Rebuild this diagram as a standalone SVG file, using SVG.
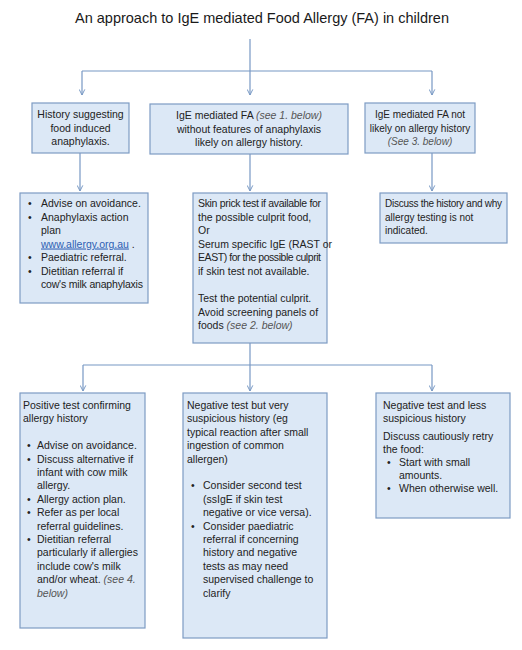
<svg xmlns="http://www.w3.org/2000/svg" width="522" height="650" viewBox="0 0 522 650">
<style>
.bg{fill:#ffffff}
.box{fill:#dce8f6;stroke:#7d9bc3;stroke-width:1.2}
.t{font-family:"Liberation Sans",Arial,sans-serif;font-size:10.5px;fill:#222}
.s{font-size:10px}
.c{text-anchor:middle}
.i{font-style:italic;fill:#555}
.lk{fill:#2f5fb3;text-decoration:underline}
.title{font-family:"Liberation Sans",Arial,sans-serif;font-size:14.5px;fill:#1a1a1a;text-anchor:middle}
.conn{stroke:#7798c4;stroke-width:1.2;fill:none}
</style>
<defs>
<marker id="a" viewBox="0 0 10 10" refX="9" refY="5" markerWidth="7" markerHeight="7" orient="auto" markerUnits="userSpaceOnUse">
<path d="M1,1 L9,5 L1,9" fill="none" stroke="#7798c4" stroke-width="1.4"/>
</marker>
</defs>
<rect class="bg" x="0" y="0" width="522" height="650"/>
<text class="title" x="262" y="23">An approach to IgE mediated Food Allergy (FA) in children</text>

<g id="connectors">
<path class="conn" d="M250,39 V71"/>
<path class="conn" d="M82,71 H432"/>
<path class="conn" d="M82,71 V95" marker-end="url(#a)"/>
<path class="conn" d="M250,71 V95" marker-end="url(#a)"/>
<path class="conn" d="M432,71 V95" marker-end="url(#a)"/>
<path class="conn" d="M80,153 V191" marker-end="url(#a)"/>
<path class="conn" d="M250,154 V191" marker-end="url(#a)"/>
<path class="conn" d="M432,153 V191" marker-end="url(#a)"/>
<path class="conn" d="M250,343 V365"/>
<path class="conn" d="M83,365 H432"/>
<path class="conn" d="M83,365 V391" marker-end="url(#a)"/>
<path class="conn" d="M250,365 V391" marker-end="url(#a)"/>
<path class="conn" d="M432,365 V391" marker-end="url(#a)"/>
</g>

<g id="n1">
<rect class="box" x="32" y="103" width="97" height="50"/>
<text class="t c" x="80.5" y="118">History suggesting</text>
<text class="t c" x="80.5" y="131.5">food induced</text>
<text class="t c" x="80.5" y="145">anaphylaxis.</text>
</g>

<g id="n2">
<rect class="box" x="150" y="104" width="198" height="50"/>
<text class="t c" x="249" y="119">IgE mediated FA <tspan class="i">(see 1. below)</tspan></text>
<text class="t c" x="249" y="132.5">without features of anaphylaxis</text>
<text class="t c" x="249" y="146">likely on allergy history.</text>
</g>

<g id="n3">
<rect class="box" x="365" y="103" width="110" height="50"/>
<text class="t s c" x="420" y="118">IgE mediated FA not</text>
<text class="t s c" x="420" y="131.5">likely on allergy history</text>
<text class="t s c i" x="420" y="145">(See 3. below)</text>
</g>

<g id="n1a">
<rect class="box" x="20" y="193" width="128" height="110"/>
<text class="t" x="28" y="207">•</text><text class="t" x="41" y="207">Advise on avoidance.</text>
<text class="t" x="28" y="220.5">•</text><text class="t" x="41" y="220.5">Anaphylaxis action</text>
<text class="t" x="41" y="234">plan</text>
<text class="t" x="41" y="247.5"><tspan class="lk">www.allergy.org.au</tspan> .</text>
<text class="t" x="28" y="261">•</text><text class="t" x="41" y="261">Paediatric referral.</text>
<text class="t" x="28" y="274.5">•</text><text class="t" x="41" y="274.5">Dietitian referral if</text>
<text class="t" x="41" y="288" textLength="102">cow's milk anaphylaxis</text>
</g>

<g id="n2a">
<rect class="box" x="193" y="193" width="134" height="150"/>
<text class="t" x="198" y="207" textLength="123">Skin prick test if available for</text>
<text class="t" x="198" y="220.6">the possible culprit food,</text>
<text class="t" x="198" y="234.2">Or</text>
<text class="t" x="198" y="247.8">Serum specific IgE (RAST or</text>
<text class="t" x="198" y="261.4" textLength="123">EAST) for the possible culprit</text>
<text class="t" x="198" y="275">if skin test not available.</text>
<text class="t" x="198" y="302.2">Test the potential culprit.</text>
<text class="t" x="198" y="315.8">Avoid screening panels of</text>
<text class="t" x="198" y="329.4">foods <tspan class="i">(see 2. below)</tspan></text>
</g>

<g id="n3a">
<rect class="box" x="380" y="193" width="127" height="50"/>
<text class="t s" x="385" y="207" textLength="117">Discuss the history and why</text>
<text class="t s" x="385" y="220.5">allergy testing is not</text>
<text class="t s" x="385" y="234">indicated.</text>
</g>

<g id="n4">
<rect class="box" x="20" y="393" width="125" height="235"/>
<text class="t" x="23" y="409">Positive test confirming</text>
<text class="t" x="23" y="422.4">allergy history</text>
<text class="t" x="27" y="449.2">•</text><text class="t" x="37" y="449.2">Advise on avoidance.</text>
<text class="t" x="27" y="462.6">•</text><text class="t" x="37" y="462.6">Discuss alternative if</text>
<text class="t" x="37" y="476">infant with cow milk</text>
<text class="t" x="37" y="489.4">allergy.</text>
<text class="t" x="27" y="502.8">•</text><text class="t" x="37" y="502.8">Allergy action plan.</text>
<text class="t" x="27" y="516.2">•</text><text class="t" x="37" y="516.2">Refer as per local</text>
<text class="t" x="37" y="529.6">referral guidelines.</text>
<text class="t" x="27" y="543">•</text><text class="t" x="37" y="543">Dietitian referral</text>
<text class="t" x="37" y="556.4">particularly if allergies</text>
<text class="t" x="37" y="569.8">include cow's milk</text>
<text class="t" x="37" y="583.2">and/or wheat. <tspan class="i">(see 4.</tspan></text>
<text class="t i" x="37" y="596.6">below)</text>
</g>

<g id="n5">
<rect class="box" x="183" y="393" width="144" height="245"/>
<text class="t" x="187" y="409">Negative test but very</text>
<text class="t" x="187" y="422.4">suspicious history (eg</text>
<text class="t" x="187" y="435.8">typical reaction after small</text>
<text class="t" x="187" y="449.2">ingestion of common</text>
<text class="t" x="187" y="462.6">allergen)</text>
<text class="t" x="191" y="489.4">•</text><text class="t" x="203" y="489.4">Consider second test</text>
<text class="t" x="203" y="502.8">(ssIgE if skin test</text>
<text class="t" x="203" y="516.2">negative or vice versa).</text>
<text class="t" x="191" y="529.6">•</text><text class="t" x="203" y="529.6">Consider paediatric</text>
<text class="t" x="203" y="543">referral if concerning</text>
<text class="t" x="203" y="556.4">history and negative</text>
<text class="t" x="203" y="569.8">tests as may need</text>
<text class="t" x="203" y="583.2">supervised challenge to</text>
<text class="t" x="203" y="596.6">clarify</text>
</g>

<g id="n6">
<rect class="box" x="376" y="393" width="134" height="125"/>
<text class="t" x="383" y="409">Negative test and less</text>
<text class="t" x="383" y="421.5">suspicious history</text>
<text class="t" x="383" y="440">Discuss cautiously retry</text>
<text class="t" x="383" y="453">the food:</text>
<text class="t" x="387" y="466">•</text><text class="t" x="399" y="466">Start with small</text>
<text class="t" x="399" y="479">amounts.</text>
<text class="t" x="387" y="492">•</text><text class="t" x="399" y="492">When otherwise well.</text>
</g>
</svg>
